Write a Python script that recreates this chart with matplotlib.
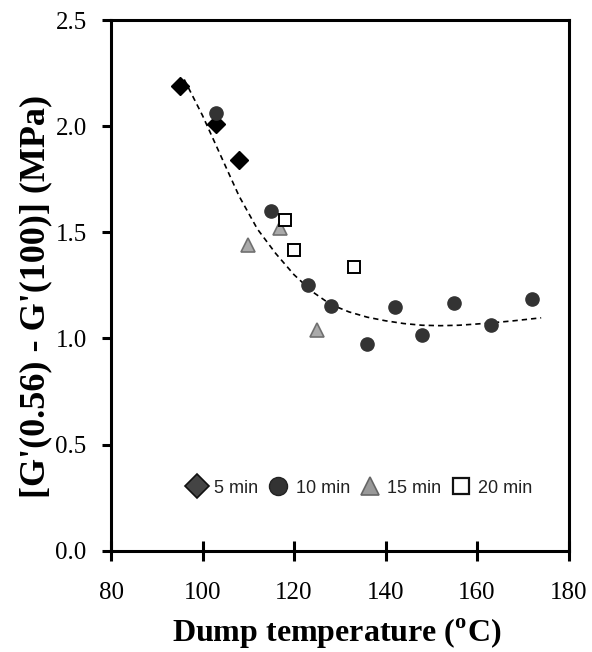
import matplotlib
matplotlib.use("Agg")
import matplotlib.pyplot as plt
from matplotlib.lines import Line2D

plt.rcParams['font.family'] = ['Liberation Serif', 'DejaVu Serif']
plt.rcParams['mathtext.fontset'] = 'custom'
plt.rcParams['mathtext.rm'] = 'Liberation Serif'
plt.rcParams['mathtext.bf'] = 'Liberation Serif:bold'

# Modulus difference vs dump temperature, grouped by mixing time
t5 = [95, 103, 108]
v5 = [2.19, 2.01, 1.84]

t10 = [103, 115, 123, 128, 136, 142, 148, 155, 163, 172]
v10 = [2.06, 1.60, 1.25, 1.155, 0.975, 1.15, 1.015, 1.165, 1.065, 1.185]

t15 = [110, 117, 125]
v15 = [1.44, 1.52, 1.04]

t20 = [118, 120, 133]
v20 = [1.56, 1.415, 1.335]

# trend line
trend_t = [96, 100, 104, 108, 112, 116, 120, 124, 128, 132, 136, 140,
           144, 148, 152, 156, 160, 164, 168, 174]
trend_v = [2.22, 2.05, 1.86, 1.67, 1.515, 1.40, 1.30, 1.22, 1.16, 1.125,
           1.10, 1.083, 1.07, 1.062, 1.060, 1.062, 1.068, 1.075, 1.083, 1.097]

legend_labels = ['5 min', '10 min', '15 min', '20 min']

fig = plt.figure(figsize=(5.92, 6.52), dpi=100)
ax = fig.add_axes([0.1875, 0.1554, 0.773, 0.8139])

ax.plot(trend_t, trend_v, color='black', lw=1.2, linestyle=(0, (3.2, 2.4)), zorder=1)

ax.plot(t5, v5, 'D', ms=9, color='black', mec='black', zorder=3)
ax.plot(t10, v10, 'o', ms=9.5, color='#333333', mec='#333333', zorder=3)
ax.plot(t15, v15, '^', ms=10.5, color='#aaaaaa', mec='#707070', mew=1.2, zorder=3)
ax.plot(t20, v20, 's', ms=8.5, color='white', mec='black', mew=1.4, zorder=3)

ax.set_xlim(80, 180)
ax.set_ylim(0, 2.5)
ax.set_xticks([80, 100, 120, 140, 160, 180])
ax.set_yticks([0.0, 0.5, 1.0, 1.5, 2.0, 2.5])
ax.set_yticklabels(['0.0', '0.5', '1.0', '1.5', '2.0', '2.5'])

for s in ax.spines.values():
    s.set_linewidth(2.2)
ax.tick_params(axis='x', direction='inout', length=14, width=2.2, pad=15.5, labelsize=18)
ax.tick_params(axis='y', direction='out', length=6.5, width=2.2, pad=11, labelsize=18)

fig.text(0.568, 0.027, r'Dump temperature ($^{\mathbf{o}}$C)', ha='center', va='center',
         fontsize=23, fontweight='bold')
fig.text(0.06, 0.545, "[G'(0.56) - G'(100)] (MPa)", ha='center', va='center',
         rotation=90, fontsize=26, fontweight='bold')

handles = [
    Line2D([], [], marker='D', ls='none', ms=12, color='#444444', mec='#111111', mew=1.2),
    Line2D([], [], marker='o', ls='none', ms=13, color='#333333', mec='#222222'),
    Line2D([], [], marker='^', ls='none', ms=13, color='#999999', mec='#666666', mew=1.2),
    Line2D([], [], marker='s', ls='none', ms=11, color='white', mec='#111111', mew=1.6),
]
leg = ax.legend(handles, legend_labels, loc='center left', bbox_to_anchor=(0.149, 0.118),
                ncol=4, frameon=False, handlelength=1.2, handletextpad=0.35,
                columnspacing=0.5, borderaxespad=0,
                prop={'family': 'Liberation Sans', 'size': 13})
for txt in leg.get_texts():
    txt.set_color('#222222')

fig.savefig('out.png', dpi=100)
